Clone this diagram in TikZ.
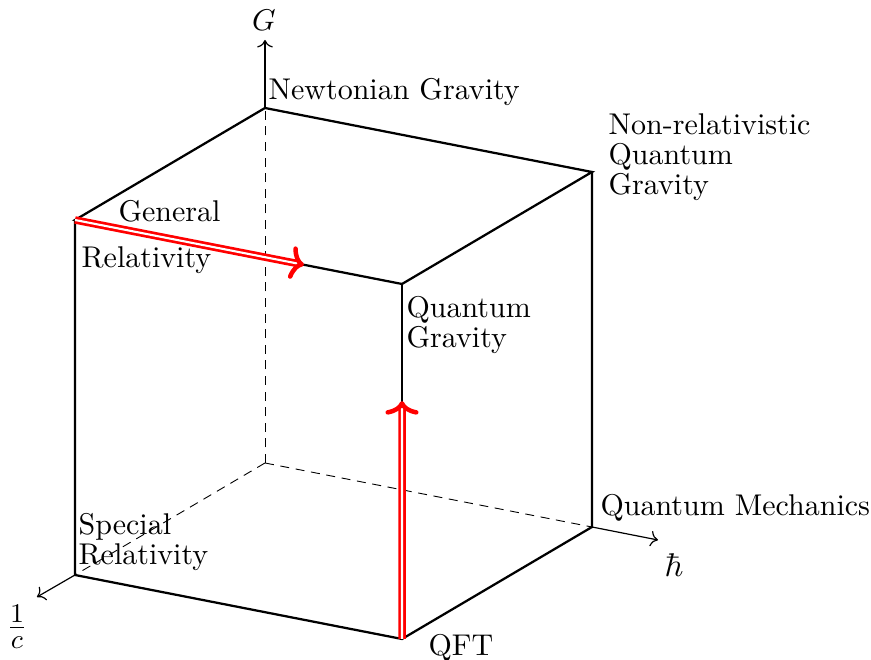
\documentclass[tikz,border=0pt]{standalone}
\usetikzlibrary{arrows.meta,calc}
\begin{document}
\begin{tikzpicture}[x=0.3333pt,y=-0.3333pt,
  edge/.style={line width=0.75pt},
  hidden/.style={line width=0.3pt, dash pattern=on 3pt off 2.2pt},
  axis/.style={line width=0.4pt,->},
  redarrow/.style={draw=red, line width=0.9pt, double=white, double distance=0.7pt, -{To[round, length=4.5pt, width=11pt, line width=1.5pt]}},
  lbl/.style={inner sep=0pt, anchor=base west, align=left, font=\fontsize{10}{10}\selectfont}]
\useasboundingbox (0,0) rectangle (871,660);
% cube vertices
\coordinate (O) at (265,463);
\coordinate (N) at (265,108);
\coordinate (SR) at (75,575);
\coordinate (QM) at (592,527);
\coordinate (GR) at (75,220);
\coordinate (QFT) at (402,639);
\coordinate (QG) at (402,284);
\coordinate (NQ) at (592,172);
\coordinate (Gt) at (265,40);
\coordinate (ct) at (37,597);
\coordinate (ht) at (658,540);
\coordinate (r1) at ($(GR)!0.70!(QG)$);
\coordinate (r2) at ($(QFT)!0.67!(QG)$);
% hidden edges
\draw[hidden] (O) -- (N);
\draw[hidden] (O) -- (SR);
\draw[hidden] (O) -- (QM);
% axes
\draw[axis] (N) -- (Gt);
\draw[axis] (SR) -- (ct);
\draw[axis] (QM) -- (ht);
% visible edges
\draw[edge] (GR) -- (N) -- (NQ) -- (QG) -- cycle;
\draw[edge] (GR) -- (SR) -- (QFT) -- (QM) -- (NQ);
\draw[edge] (QG) -- (QFT);
% red arrows
\draw[redarrow] (GR) -- (r1);
\draw[redarrow] (QFT) -- (r2);
% labels
\node (lG) at (264,20) {$G$};
\node[font=\fontsize{11}{13}\selectfont] (lh) at (674,565) {$\hbar$};
\node[font=\fontsize{12.5}{14}\selectfont] (lc) at (17,627) {$\frac{1}{c}$};
\node[lbl] (lN) at (268,100) {Newtonian Gravity};
\node[lbl] (lNQ) at (608,195) {Non-relativistic\\Quantum\\Gravity};
\node[lbl] (lQG) at (406,348) {Quantum\\Gravity};
\node[lbl] (lGR1) at (118,222) {General};
\node[lbl] (lGR2) at (81,268) {Relativity};
\node[lbl] (lSR) at (78,565) {Special\\Relativity};
\node[lbl] (lQM) at (600,516) {Quantum Mechanics};
\node[lbl] (lQFT) at (428,656) {QFT};
\end{tikzpicture}
\end{document}
